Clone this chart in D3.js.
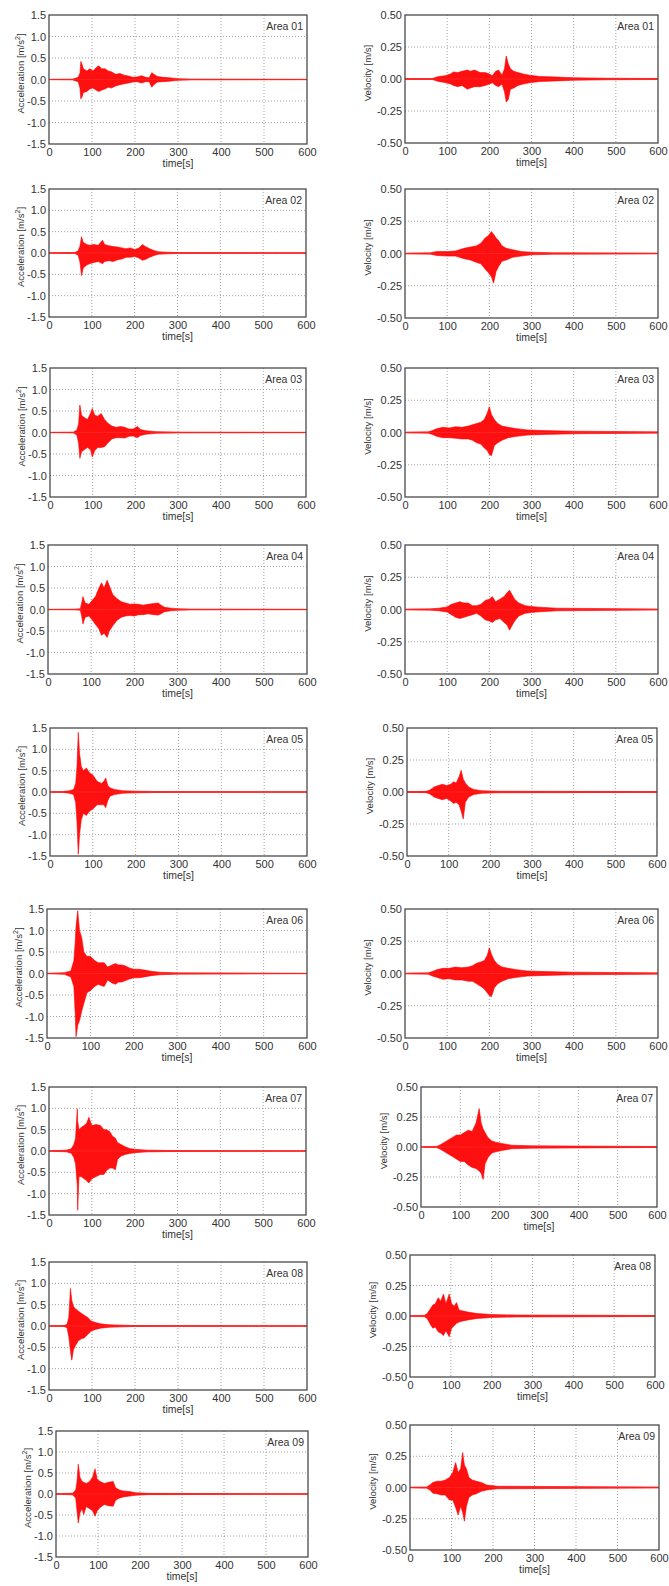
<!DOCTYPE html>
<html>
<head>
<meta charset="utf-8">
<script src="https://cdn.jsdelivr.net/npm/d3@7"></script>
<style>
  body { margin: 0; background: #fff; }
  svg text { font-family: 'Liberation Sans', Arial, sans-serif; fill: #333; }
</style>
</head>
<body>
<script>
// tick values
const timeTicks = [0, 100, 200, 300, 400, 500, 600];
const accTicks = [-1.5, -1.0, -0.5, 0.0, 0.5, 1.0, 1.5];
const velTicks = [-0.5, -0.25, 0, 0.25, 0.5];
const areaNames = ['Area 01', 'Area 02', 'Area 03', 'Area 04', 'Area 05', 'Area 06', 'Area 07', 'Area 08', 'Area 09'];

// envelope of each record: [time s, upper peak, lower peak]
const acc01 = [[0,.005,-.005],[55,.01,-.01],[68,.05,-.05],[72,.15,-.2],[74,.42,-.45],[77,.35,-.4],[80,.25,-.3],[88,.2,-.28],[95,.25,-.22],[102,.2,-.2],[110,.28,-.25],[116,.32,-.28],[122,.25,-.25],[130,.25,-.22],[138,.2,-.18],[145,.18,-.2],[155,.12,-.15],[165,.14,-.12],[175,.1,-.1],[185,.08,-.08],[195,.05,-.06],[205,.06,-.05],[215,.09,-.08],[225,.05,-.05],[233,.04,-.05],[239,.16,-.18],[244,.12,-.12],[252,.07,-.06],[265,.05,-.05],[280,.04,-.04],[300,.02,-.02],[330,.01,-.01],[600,.005,-.005]];
const acc02 = [[0,.005,-.005],[60,.01,-.01],[68,.05,-.05],[72,.15,-.2],[76,.38,-.53],[80,.25,-.35],[88,.2,-.28],[95,.18,-.25],[105,.2,-.22],[115,.18,-.2],[125,.3,-.25],[130,.2,-.2],[140,.17,-.18],[150,.15,-.2],[160,.14,-.16],[170,.12,-.14],[180,.1,-.1],[190,.12,-.1],[200,.08,-.08],[210,.12,-.12],[218,.2,-.17],[225,.15,-.15],[235,.1,-.1],[245,.06,-.06],[255,.03,-.03],[275,.02,-.02],[300,.01,-.01],[600,.005,-.005]];
const acc03 = [[0,.005,-.005],[55,.01,-.01],[63,.06,-.06],[67,.2,-.25],[70,.64,-.6],[74,.4,-.45],[80,.35,-.4],[88,.3,-.35],[95,.45,-.4],[99,.56,-.57],[105,.4,-.42],[112,.38,-.35],[120,.44,-.35],[128,.3,-.33],[135,.22,-.25],[145,.15,-.15],[155,.12,-.12],[165,.14,-.12],[175,.12,-.13],[185,.08,-.09],[195,.08,-.08],[205,.14,-.12],[212,.07,-.07],[225,.04,-.04],[250,.02,-.02],[300,.01,-.01],[600,.005,-.005]];
const acc04 = [[0,.005,-.005],[60,.008,-.008],[75,.02,-.02],[78,.15,-.15],[81,.3,-.34],[86,.15,-.18],[95,.12,-.15],[103,.22,-.25],[110,.3,-.35],[118,.5,-.45],[124,.62,-.6],[130,.5,-.55],[137,.68,-.65],[142,.55,-.5],[150,.35,-.38],[160,.25,-.25],[170,.18,-.18],[180,.15,-.15],[190,.12,-.14],[200,.13,-.15],[210,.12,-.12],[220,.1,-.12],[232,.12,-.1],[245,.14,-.12],[255,.15,-.13],[262,.1,-.1],[270,.05,-.05],[285,.03,-.03],[300,.02,-.02],[330,.01,-.01],[600,.005,-.005]];
const acc05 = [[0,.005,-.005],[30,.01,-.01],[45,.03,-.03],[55,.06,-.06],[60,.2,-.25],[63,.6,-.7],[66,1.4,-1.46],[69,.9,-1.0],[73,.6,-.65],[78,.5,-.5],[85,.56,-.55],[92,.45,-.45],[100,.4,-.4],[110,.25,-.3],[120,.2,-.3],[126,.25,-.3],[130,.33,-.37],[135,.15,-.2],[140,.1,-.1],[150,.06,-.06],[170,.03,-.03],[200,.02,-.02],[250,.01,-.01],[600,.005,-.005]];
const acc06 = [[0,.005,-.005],[40,.02,-.02],[55,.06,-.08],[62,.3,-.3],[65,.7,-.9],[67,1.1,-1.47],[71,1.46,-1.2],[75,1.0,-1.1],[80,.84,-.88],[85,.5,-.7],[92,.4,-.45],[100,.4,-.4],[110,.3,-.3],[118,.25,-.25],[125,.25,-.28],[132,.25,-.3],[140,.15,-.15],[150,.2,-.22],[158,.23,-.25],[165,.2,-.2],[172,.2,-.2],[180,.18,-.17],[190,.13,-.13],[200,.1,-.1],[212,.1,-.1],[225,.08,-.08],[240,.05,-.05],[260,.03,-.03],[300,.015,-.015],[600,.005,-.005]];
const acc07 = [[0,.005,-.005],[40,.02,-.02],[52,.05,-.05],[58,.15,-.15],[62,.3,-.3],[66,.99,-.8],[67,.7,-1.39],[70,.5,-.6],[75,.55,-.6],[82,.6,-.65],[88,.65,-.7],[93,.79,-.75],[100,.6,-.65],[110,.62,-.6],[120,.6,-.55],[128,.5,-.55],[135,.5,-.45],[142,.45,-.4],[148,.35,-.4],[155,.3,-.44],[160,.2,-.2],[168,.15,-.12],[178,.1,-.08],[188,.06,-.06],[200,.04,-.04],[230,.02,-.02],[300,.01,-.01],[600,.005,-.005]];
const acc08 = [[0,.005,-.005],[35,.01,-.01],[42,.04,-.04],[46,.2,-.25],[50,.88,-.6],[53,.6,-.8],[57,.45,-.55],[62,.4,-.45],[68,.35,-.35],[75,.3,-.3],[82,.25,-.28],[90,.2,-.2],[98,.12,-.12],[108,.08,-.08],[120,.05,-.05],[140,.03,-.03],[170,.02,-.02],[200,.01,-.01],[600,.005,-.005]];
const acc09 = [[0,.005,-.005],[40,.02,-.02],[47,.1,-.1],[50,.3,-.4],[53,.71,-.69],[57,.4,-.45],[62,.3,-.35],[66,.28,-.49],[72,.25,-.3],[80,.3,-.35],[87,.4,-.4],[93,.6,-.53],[98,.35,-.4],[105,.3,-.32],[115,.25,-.25],[125,.28,-.28],[136,.3,-.29],[142,.15,-.15],[150,.1,-.1],[160,.07,-.07],[175,.06,-.05],[190,.03,-.03],[220,.015,-.015],[600,.005,-.005]];

const vel01 = [[0,.003,-.003],[65,.004,-.004],[72,.012,-.012],[80,.02,-.02],[95,.025,-.028],[108,.04,-.04],[115,.055,-.05],[125,.05,-.06],[135,.06,-.05],[148,.07,-.08],[155,.06,-.07],[165,.07,-.06],[178,.05,-.06],[190,.05,-.05],[200,.04,-.04],[207,.025,-.03],[215,.06,-.05],[222,.07,-.06],[230,.03,-.04],[236,.08,-.1],[240,.18,-.18],[245,.12,-.16],[250,.08,-.08],[258,.06,-.07],[268,.05,-.05],[280,.04,-.04],[295,.03,-.03],[320,.02,-.02],[360,.015,-.015],[400,.01,-.01],[480,.006,-.006],[600,.004,-.004]];
const vel02 = [[0,.003,-.003],[60,.005,-.005],[75,.015,-.015],[100,.015,-.02],[120,.02,-.02],[140,.04,-.04],[155,.05,-.05],[170,.06,-.07],[180,.08,-.08],[190,.12,-.12],[198,.14,-.15],[205,.17,-.18],[210,.15,-.23],[216,.12,-.14],[222,.1,-.1],[230,.06,-.06],[240,.04,-.05],[255,.03,-.03],[275,.015,-.02],[300,.01,-.01],[350,.006,-.006],[600,.003,-.003]];
const vel03 = [[0,.003,-.003],[55,.005,-.005],[65,.015,-.015],[75,.03,-.03],[90,.04,-.04],[105,.035,-.04],[120,.045,-.045],[135,.04,-.05],[150,.05,-.05],[160,.06,-.06],[170,.07,-.08],[180,.08,-.09],[188,.1,-.12],[195,.15,-.14],[200,.2,-.17],[205,.14,-.18],[212,.1,-.1],[220,.07,-.08],[230,.05,-.06],[245,.04,-.04],[265,.03,-.03],[290,.02,-.02],[330,.015,-.015],[400,.01,-.01],[600,.005,-.005]];
const vel04 = [[0,.003,-.003],[60,.005,-.005],[80,.01,-.01],[100,.02,-.02],[110,.04,-.04],[120,.05,-.06],[130,.06,-.07],[140,.05,-.06],[150,.05,-.05],[160,.03,-.04],[170,.03,-.03],[180,.04,-.05],[190,.07,-.08],[200,.08,-.09],[207,.1,-.1],[215,.06,-.08],[225,.08,-.07],[235,.1,-.1],[242,.13,-.12],[248,.15,-.16],[253,.12,-.13],[260,.08,-.09],[270,.05,-.05],[285,.03,-.03],[310,.02,-.02],[360,.01,-.01],[600,.004,-.004]];
const vel05 = [[0,.003,-.003],[45,.005,-.005],[55,.015,-.015],[65,.04,-.04],[75,.05,-.05],[85,.06,-.06],[95,.05,-.05],[105,.06,-.07],[112,.08,-.09],[118,.07,-.08],[125,.12,-.1],[130,.17,-.15],[135,.1,-.21],[140,.07,-.08],[148,.04,-.04],[160,.02,-.02],[180,.01,-.01],[220,.006,-.006],[600,.003,-.003]];
const vel06 = [[0,.003,-.003],[55,.005,-.005],[65,.015,-.02],[75,.03,-.03],[90,.04,-.045],[105,.04,-.04],[120,.05,-.05],[135,.045,-.05],[150,.05,-.06],[160,.06,-.06],[170,.08,-.08],[180,.09,-.1],[188,.1,-.12],[195,.14,-.15],[200,.2,-.17],[205,.15,-.18],[212,.1,-.11],[220,.07,-.08],[230,.05,-.06],[245,.04,-.04],[265,.03,-.03],[290,.02,-.02],[330,.015,-.015],[400,.01,-.01],[600,.005,-.005]];
const vel07 = [[0,.003,-.003],[40,.005,-.005],[50,.02,-.02],[60,.04,-.04],[70,.06,-.06],[80,.08,-.08],[90,.1,-.1],[100,.1,-.12],[110,.12,-.12],[120,.14,-.15],[130,.13,-.17],[140,.2,-.18],[148,.32,-.2],[153,.2,-.22],[158,.15,-.27],[163,.12,-.14],[170,.08,-.09],[180,.05,-.05],[190,.04,-.04],[205,.03,-.03],[230,.015,-.015],[280,.01,-.01],[600,.004,-.004]];
const vel08 = [[0,.003,-.003],[35,.005,-.005],[42,.02,-.02],[50,.06,-.07],[56,.09,-.1],[62,.1,-.09],[69,.15,-.13],[75,.12,-.14],[82,.18,-.16],[88,.1,-.12],[96,.18,-.17],[102,.1,-.1],[108,.08,-.08],[114,.11,-.06],[120,.05,-.05],[130,.04,-.04],[145,.03,-.03],[165,.02,-.02],[200,.012,-.012],[260,.008,-.008],[600,.004,-.004]];
const vel09 = [[0,.003,-.003],[40,.005,-.005],[48,.02,-.02],[55,.04,-.045],[65,.05,-.05],[75,.05,-.06],[85,.06,-.06],[95,.08,-.1],[103,.12,-.1],[110,.2,-.16],[116,.12,-.22],[122,.15,-.15],[127,.28,-.2],[131,.18,-.27],[136,.15,-.15],[142,.08,-.08],[150,.06,-.06],[160,.05,-.05],[172,.04,-.03],[185,.02,-.02],[210,.01,-.01],[600,.004,-.004]];

const accData = [acc01, acc02, acc03, acc04, acc05, acc06, acc07, acc08, acc09];
const velData = [vel01, vel02, vel03, vel04, vel05, vel06, vel07, vel08, vel09];

// plot frames [x0, y0, x1, y1] - the source is a pasted collage so they are not regular
let leftBoxes = [[49,15,307,144],[49,189,306,317],[50,368,306,497],[48,545,307,674],[50,728,307,856],[47,909,307,1038],[49,1087,306,1215],[49,1262,307,1390],[56,1431,308,1557]];
let rightBoxes = [[405,15,658,143],[405,189,658,318],[405,368,658,497],[405,545,658,674],[407,728,657,856],[405,909,658,1038],[421,1087,657,1207],[410,1255,655,1377],[410,1425,659,1550]];

let width = 669,
    height = 1586;

let svg = d3.select('body')
    .append('svg')
    .attr('width', width)
    .attr('height', height);

svg.append('rect')
    .attr('width', width)
    .attr('height', height)
    .attr('fill', '#fff');

let clipId = 0;

function drawPanel(box, data, kind, name) {
    let [x0, y0, x1, y1] = box;
    let w = x1 - x0, h = y1 - y0;
    let isAcc = kind === 'acc';
    let yTicks = isAcc ? accTicks : velTicks;

    let x = d3.scaleLinear().domain([0, 600]).range([0, w]);
    let y = d3.scaleLinear().domain(d3.extent(yTicks)).range([h, 0]);

    let g = svg.append('g').attr('transform', 'translate(' + x0 + ',' + y0 + ')');

    // dotted grid
    g.append('g')
        .selectAll('line')
        .data(timeTicks.slice(1, -1))
        .join('line')
        .attr('x1', d => x(d)).attr('x2', d => x(d))
        .attr('y1', 0).attr('y2', h)
        .attr('stroke', '#8a8a8a')
        .attr('stroke-width', 0.8)
        .attr('stroke-dasharray', '1,2');
    g.append('g')
        .selectAll('line')
        .data(yTicks.slice(1, -1))
        .join('line')
        .attr('x1', 0).attr('x2', w)
        .attr('y1', d => y(d)).attr('y2', d => y(d))
        .attr('stroke', '#8a8a8a')
        .attr('stroke-width', 0.8)
        .attr('stroke-dasharray', '1,2');

    // waveform
    let id = 'clip' + (clipId++);
    g.append('clipPath').attr('id', id)
        .append('rect').attr('width', w).attr('height', h);

    let env = d3.area()
        .x(d => x(d[0]))
        .y0(d => y(d[2]))
        .y1(d => y(d[1]));

    let wave = g.append('g').attr('clip-path', 'url(#' + id + ')');
    wave.append('path')
        .datum(data)
        .attr('d', env)
        .attr('fill', '#ff1010')
        .attr('stroke', '#ff0000')
        .attr('stroke-width', 0.6)
        .attr('stroke-linejoin', 'miter');
    wave.append('path')
        .datum([[0, 0], [600, 0]])
        .attr('d', d3.line().x(d => x(d[0])).y(d => y(d[1])))
        .attr('stroke', '#ff2020')
        .attr('stroke-width', 1)
        .attr('fill', 'none');

    // frame
    g.append('rect')
        .attr('width', w)
        .attr('height', h)
        .attr('fill', 'none')
        .attr('stroke', '#4a4a4a')
        .attr('stroke-width', 1.3);

    // axes
    let xAxis = d3.axisBottom(x).tickValues(timeTicks).tickSize(0).tickPadding(4)
        .tickFormat(d => d);
    let gx = g.append('g').attr('transform', 'translate(0,' + h + ')').call(xAxis);
    let yAxis = d3.axisLeft(y).tickValues(yTicks).tickSize(0).tickPadding(3)
        .tickFormat(d => d.toFixed(isAcc ? 1 : 2));
    let gy = g.append('g').call(yAxis);
    [gx, gy].forEach(a => {
        a.select('.domain').remove();
        a.attr('font-family', null).attr('font-size', null);
        a.selectAll('text').style('font-size', '11px').attr('fill', '#333');
    });

    // axis titles
    g.append('text')
        .attr('x', w / 2)
        .attr('y', h + 23)
        .attr('text-anchor', 'middle')
        .style('font-size', '10.5px')
        .text('time[s]');

    let lab = g.append('text')
        .attr('transform', 'translate(' + (isAcc ? -25 : -34) + ',' + (h / 2 - 6) + ') rotate(-90)')
        .attr('text-anchor', 'middle')
        .style('font-size', '9.6px');
    if (isAcc) {
        lab.append('tspan').text('Acceleration [m/s');
        lab.append('tspan').attr('dy', -4).style('font-size', '7px').text('2');
        lab.append('tspan').attr('dy', 4).text(']');
    } else {
        lab.text('Velocity [m/s]');
    }

    // area name
    g.append('text')
        .attr('x', w - 4)
        .attr('y', 15)
        .attr('text-anchor', 'end')
        .style('font-size', '10.5px')
        .text(name);
}

for (let i = 0; i < areaNames.length; i++) {
    drawPanel(leftBoxes[i], accData[i], 'acc', areaNames[i]);
    drawPanel(rightBoxes[i], velData[i], 'vel', areaNames[i]);
}
</script>
</body>
</html>
